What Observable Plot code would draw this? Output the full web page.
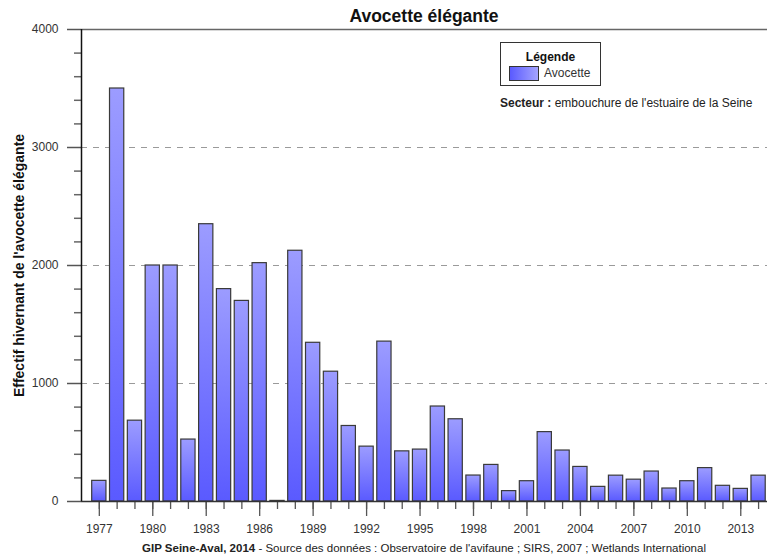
<!DOCTYPE html>
<html><head><meta charset="utf-8">
<script src="https://cdn.jsdelivr.net/npm/d3@7"></script>
<script src="https://cdn.jsdelivr.net/npm/@observablehq/plot@0.6"></script>
<style>
body{margin:0;background:#fff;font-family:"Liberation Sans",Arial,sans-serif;}
#wrap{position:relative;width:767px;height:558px;overflow:hidden;}
#wrap svg{position:absolute;left:0;top:0;}
.ov{position:absolute;color:#111;white-space:nowrap;line-height:1;}
#title{left:81px;width:686px;top:8px;text-align:center;font-weight:bold;font-size:17.5px;}
#legend{left:500px;top:42px;width:99px;height:42px;border:1px solid #333;background:#fff;}
#legend .lt{position:absolute;left:0;width:99px;top:8px;text-align:center;font-weight:bold;font-size:12px;}
#legend .sw{position:absolute;left:8px;top:23px;width:28px;height:13px;border:1px solid #333;background:linear-gradient(to right,#5a5aff,#a4a4ff);}
#legend .ll{position:absolute;left:43px;top:24px;font-size:12px;color:#333;}
#secteur{left:500px;top:97px;font-size:12px;color:#222;}
#caption{left:81px;width:686px;top:543px;text-align:center;font-size:11.5px;color:#222;}
</style></head><body><div id="wrap">
<div class="ov" id="title">Avocette élégante</div>
<div class="ov" id="legend"><div class="lt">Légende</div><div class="sw"></div><div class="ll">Avocette</div></div>
<div class="ov" id="secteur"><b>Secteur :</b> embouchure de l'estuaire de la Seine</div>
<div class="ov" id="caption"><b>GIP Seine-Aval, 2014</b> - Source des données : Observatoire de l'avifaune ; SIRS, 2007 ; Wetlands International</div>
</div>
<script>
const years = [1977,1978,1979,1980,1981,1982,1983,1984,1985,1986,1987,1988,1989,1990,1991,1992,1993,1994,1995,1996,1997,1998,1999,2000,2001,2002,2003,2004,2005,2006,2007,2008,2009,2010,2011,2012,2013,2014];
const values = [175,3500,685,2000,2000,525,2350,1800,1700,2020,5,2125,1345,1100,640,465,1355,425,440,805,697,220,310,88,172,588,432,293,124,219,185,254,110,172,283,133,107,219];
const labelYears = [1977,1980,1983,1986,1989,1992,1995,1998,2001,2004,2007,2010,2013];
const majorY = [0,1000,2000,3000,4000];
const minorY = [200,400,600,800,1200,1400,1600,1800,2200,2400,2600,2800,3200,3400,3600,3800];
const gridY = [1000,2000,3000];
const xDomain = [1976, 2014.5];
const yDomain = [0, 4000];
const yLabel = "Effectif hivernant de l'avocette élégante";

const data = years.map((year, i) => ({year, value: values[i]}));

const chart = Plot.plot({
  width: 767, height: 558,
  marginTop: 29, marginBottom: 57, marginLeft: 81, marginRight: 0,
  style: {fontFamily: '"Liberation Sans", Arial, sans-serif', fontSize: "12px", color: "#333", background: "transparent"},
  x: {type: "linear", domain: xDomain, axis: null},
  y: {domain: yDomain, axis: null},
  marks: [
    Plot.ruleY(gridY, {stroke: "#9a9a9a", strokeDasharray: "6,6", strokeWidth: 1.2}),
    Plot.ruleY([yDomain[1]], {stroke: "#666", strokeWidth: 1.5}),
    Plot.rect(data, {x1: d => d.year - 0.4, x2: d => d.year + 0.4, y1: 0, y2: "value", fill: "url(#barGrad)", stroke: "#3a3a3a", strokeWidth: 1.2}),
    Plot.axisY(minorY, {tickSize: 7, text: null, stroke: "#666", strokeWidth: 1.5, label: null}),
    Plot.axisY(majorY, {tickSize: 14, tickPadding: 9, stroke: "#555", strokeWidth: 1.5, fill: "#333", fontSize: 12, label: null, tickFormat: d => String(d)}),
    Plot.axisX(years, {tickSize: 8, text: null, stroke: "#555", strokeWidth: 1.3, label: null}),
    Plot.axisX(labelYears, {tickSize: 15, tickPadding: 8, stroke: "#555", strokeWidth: 1.3, fill: "#333", fontSize: 12, label: null, tickFormat: d => String(d)}),
    Plot.ruleY([yDomain[0]], {stroke: "#333", strokeWidth: 1.5}),
    Plot.ruleX([xDomain[0]], {stroke: "#111", strokeWidth: 1.5}),
    Plot.text([yLabel], {frameAnchor: "left", dx: -62, rotate: -90, textAnchor: "middle", fontWeight: "bold", fontSize: 14, fill: "#111"})
  ]
});

const svg = d3.select(chart);
const defs = svg.insert("defs", ":first-child");
const g = defs.append("linearGradient").attr("id", "barGrad").attr("x1", 0).attr("y1", 0).attr("x2", 0).attr("y2", 1);
g.append("stop").attr("offset", "0").attr("stop-color", "#9c9cff");
g.append("stop").attr("offset", "1").attr("stop-color", "#5a5aff");

const wrap = document.getElementById("wrap");
wrap.insertBefore(chart, wrap.firstChild);
</script>
</body></html>
